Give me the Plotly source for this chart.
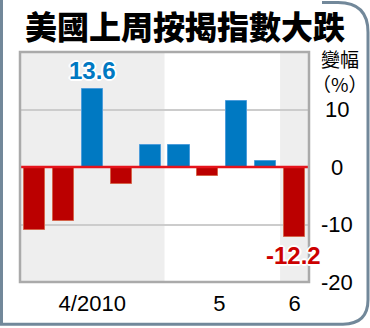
import plotly.graph_objects as go

# ---- data ----
weeks = list(range(10))
values = [-11.0, -9.4, 13.6, -2.9, 3.9, 3.8, -1.5, 11.4, 1.0, -12.2]
month_tick_pos = [2, 6.4, 9]
month_tick_text = ["4/2010", "5", "6"]
y_ticks = [10, 0, -10, -20]
y_tick_text = ["10", "0", "-10", "-20"]
shaded_spans = [(-0.5, 4.5), (8.5, 9.5)]
labelled = {2: "13.6", 9: "-12.2"}
title_text = "美國上周按揭指數大跌"
unit_text = ["變幅", "（%）"]

RED = "#bb0000"
BLUE = "#0079c2"

W, H = 370, 328
L, R, T, B = 20, 61, 52, 44
pw, ph = W - L - R, H - T - B


def px_x(px):
    return (px - L) / pw


def px_y(py):
    return (H - B - py) / ph


colors = [RED if v < 0 else BLUE for v in values]
line_colors = ["#d4634a" if v < 0 else "#4d9ddb" for v in values]

fig = go.Figure()
fig.add_trace(go.Bar(
    x=weeks, y=values, width=0.73,
    marker=dict(color=colors, line=dict(color=line_colors, width=1)),
    hoverinfo="skip",
))

shapes = []
for x0, x1 in shaded_spans:
    shapes.append(dict(type="rect", xref="x", yref="paper", x0=x0, x1=x1,
                       y0=0, y1=1, fillcolor="#eeeeee", line_width=0, layer="below"))
# zero line over bars
shapes.append(dict(type="line", xref="paper", yref="y", x0=0, x1=1, y0=0, y1=0,
                   line=dict(color="#e5141c", width=2.5), layer="above"))
# plot frame
shapes.append(dict(type="rect", xref="paper", yref="paper", x0=0, x1=1, y0=0, y1=1,
                   line=dict(color="#aaaaaa", width=2.5), layer="above"))
# outer rounded border
path = (f"M {px_x(1.5)},{px_y(-2)} L {px_x(1.5)},{px_y(326.5)} "
        f"L {px_x(343)},{px_y(326.5)} Q {px_x(368)},{px_y(326.5)} {px_x(368)},{px_y(302)} "
        f"L {px_x(368)},{px_y(32)} Q {px_x(368)},{px_y(2)} {px_x(338)},{px_y(2)} "
        f"L {px_x(322)},{px_y(2)}")
shapes.append(dict(type="path", xref="paper", yref="paper", path=path,
                   line=dict(color="#72889a", width=3), layer="above"))

outline = ("-1px -1px 0 #fff, 1px -1px 0 #fff, -1px 1px 0 #fff, 1px 1px 0 #fff, "
           "0 -2px 0 #fff, 0 2px 0 #fff, -2px 0 0 #fff, 2px 0 0 #fff")

annotations = []
annotations.append(dict(text=title_text, xref="paper", yref="paper",
                        x=px_x(185), y=px_y(25), xanchor="center", yanchor="middle",
                        showarrow=False, borderpad=0,
                        font=dict(family="Noto Sans CJK TC", size=32, weight=900,
                                  color="#000")))
for i, t in enumerate(unit_text):
    annotations.append(dict(text=t, xref="paper", yref="paper",
                            x=px_x(340), y=px_y(59 + 25 * i), xanchor="center",
                            yanchor="middle", showarrow=False, borderpad=0,
                            font=dict(family="Noto Sans CJK TC", size=19, color="#000")))
for v, t in zip(y_ticks, y_tick_text):
    annotations.append(dict(text=t, xref="paper", yref="y", x=px_x(337), y=v,
                            xanchor="center", yanchor="middle", showarrow=False,
                            font=dict(family="Liberation Sans", size=22, color="#000")))
for i, t in labelled.items():
    v = values[i]
    annotations.append(dict(text=f"<b>{t}</b>", xref="x", yref="y", x=i - (0.05 if v < 0 else 0),
                            y=v, xanchor="center",
                            yanchor="bottom" if v > 0 else "top",
                            yshift=3 if v > 0 else -3, showarrow=False,
                            font=dict(family="Liberation Sans", size=24,
                                      color=BLUE if v > 0 else "#cc0000",
                                      shadow=outline)))

fig.update_layout(
    width=W, height=H,
    margin=dict(l=L, r=R, t=T, b=B, pad=0),
    paper_bgcolor="white", plot_bgcolor="white",
    showlegend=False,
    bargap=0,
    shapes=shapes, annotations=annotations,
    xaxis=dict(range=[-0.5, 9.5], tickvals=month_tick_pos, ticktext=month_tick_text,
               showgrid=False, zeroline=False, showline=False, ticks="",
               ticklabelstandoff=6,
               tickfont=dict(family="Liberation Sans", size=22, color="#000")),
    yaxis=dict(range=[-20, 20], side="right", tickvals=[-10, 10], showticklabels=False,
               showgrid=True, gridcolor="#cccccc", gridwidth=2, zeroline=False,
               showline=False, ticks=""),
)

fig.write_html("out.html")
